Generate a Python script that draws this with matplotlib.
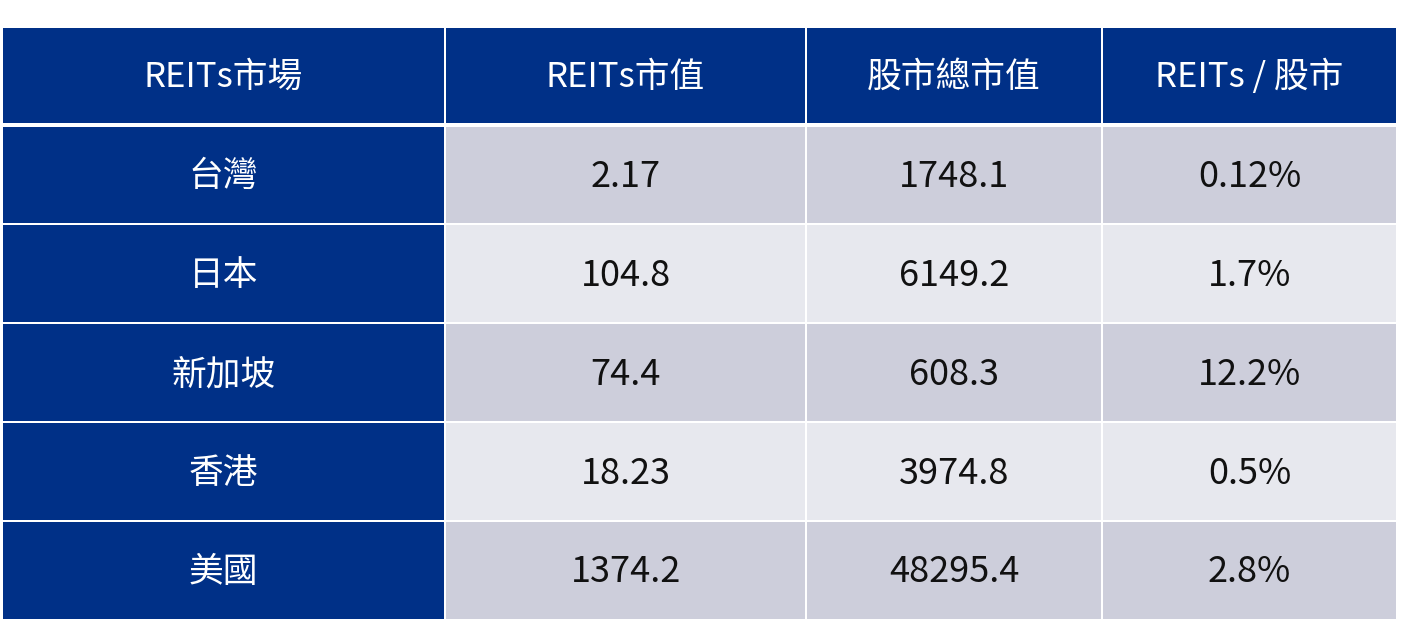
import matplotlib
matplotlib.use("Agg")
import matplotlib.pyplot as plt
from matplotlib.patches import Rectangle

plt.rcParams['font.family'] = ['Noto Sans CJK TC', 'DejaVu Sans']

# 表格資料
headers = ["REITs市場", "REITs市值", "股市總市值", "REITs / 股市"]
markets = ["台灣", "日本", "新加坡", "香港", "美國"]
reits_cap = ["2.17", "104.8", "74.4", "18.23", "1374.2"]
stock_cap = ["1748.1", "6149.2", "608.3", "3974.8", "48295.4"]
ratio = ["0.12%", "1.7%", "12.2%", "0.5%", "2.8%"]

# 版面 (像素)
W, H = 1401, 644
col_edges = [3, 445, 806, 1102, 1397]
top = 28
header_h = 97
row_h = 99
gap_head = 4
gap = 2.5

navy = "#003087"
row_dark = "#CDCEDB"
row_light = "#E7E8EE"

fig = plt.figure(figsize=(W / 100, H / 100), dpi=100)
ax = fig.add_axes([0, 0, 1, 1])
ax.set_xlim(0, W)
ax.set_ylim(H, 0)
ax.axis("off")


def cell(x0, x1, y0, y1, color, text, tcolor, size=26, weight="normal"):
    ax.add_patch(Rectangle((x0, y0), x1 - x0, y1 - y0, facecolor=color, edgecolor="none"))
    ax.text((x0 + x1) / 2, (y0 + y1) / 2 + 2, text, color=tcolor, fontsize=size,
            ha="center", va="center", fontweight=weight)


# 表頭
for j, h in enumerate(headers):
    x0 = col_edges[j] + (0 if j == 0 else gap / 2)
    x1 = col_edges[j + 1] - gap / 2
    cell(x0, x1, top, top + header_h - gap_head / 2, navy, h, "white", 25, "medium")

# 內容
columns = [markets, reits_cap, stock_cap, ratio]
for i in range(len(markets)):
    y0 = top + header_h + i * row_h + (gap_head / 2 if i == 0 else gap / 2)
    y1 = top + header_h + (i + 1) * row_h - gap / 2
    bg = row_dark if i % 2 == 0 else row_light
    for j, col in enumerate(columns):
        x0 = col_edges[j] + (0 if j == 0 else gap / 2)
        x1 = col_edges[j + 1] - gap / 2
        if j == 0:
            cell(x0, x1, y0, y1, navy, col[i], "white", 25, "medium")
        else:
            cell(x0, x1, y0, y1, bg, col[i], "#111111")

fig.savefig("out.png", dpi=100, facecolor="white")
